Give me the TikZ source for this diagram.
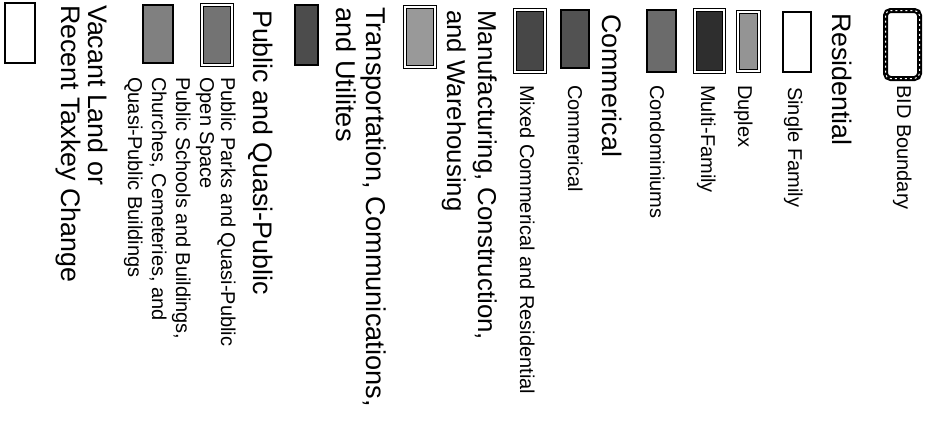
\documentclass[tikz,border=0pt]{standalone}
\usepackage{fontspec}
\setmainfont{Liberation Sans}
\begin{document}
\begin{tikzpicture}[x=1pt,y=-1pt,
  head/.style={rotate=-90,anchor=base west,inner sep=0pt,font=\fontsize{26.8}{30}\selectfont},
  item/.style={rotate=-90,anchor=base west,inner sep=0pt,font=\fontsize{20}{22}\selectfont},
  swatch/.style={draw=black,line width=1.8pt,anchor=north west,inner sep=0pt,outer sep=0pt},
  framed/.style={swatch,double=white,double distance=1.4pt,line width=1.3pt},
  bidbox/.style={swatch,line width=5pt,rounded corners=5pt,fill=white}
]
\useasboundingbox (0,0) rectangle (931,423);
\fill[white] (0,0) rectangle (931,423);

% BID boundary
\node[bidbox,minimum width=34pt,minimum height=68pt] (bidbox) at (885.5,10.5) {};
\draw[white,line width=1pt,dash pattern=on 2pt off 3pt,rounded corners=5pt] (bidbox.north west) rectangle (bidbox.south east);
\node[item] (bidtxt) at (897,85) {BID Boundary};

% Residential
\node[head] (reshead) at (832,13) {Residential};
\node[swatch,fill=white,minimum width=28pt,minimum height=60pt] (sfbox) at (783,12) {};
\node[item] (sftxt) at (788,87) {Single Family};
\node[framed,fill=black!42,minimum width=21pt,minimum height=59pt] (dupbox) at (738,12) {};
\node[item] (duptxt) at (738,85) {Duplex};
\node[framed,fill=black!82,minimum width=29pt,minimum height=62pt] (mfbox) at (695,10) {};
\node[item] (mftxt) at (701,85) {Multi-Family};
\node[swatch,fill=black!58,minimum width=29pt,minimum height=62pt] (condobox) at (647,10) {};
\node[item] (condotxt) at (650,85) {Condominiums};

% Commercial
\node[head] (comhead) at (602,14) {Commerical};
\node[swatch,fill=black!68,minimum width=28pt,minimum height=58pt] (combox) at (561,10) {};
\node[item] (comtxt) at (568,85) {Commerical};
\node[framed,fill=black!72,minimum width=30pt,minimum height=62pt] (mixbox) at (515,10) {};
\node[item] (mixtxt) at (520,85) {Mixed Commerical and Residential};

% Manufacturing
\node[head,font=\fontsize{25.8}{30}\selectfont] (manhead1) at (478,10) {Manufacturing, Construction,};
\node[head,font=\fontsize{25.8}{30}\selectfont] (manhead2) at (447,10) {and Warehousing};
\node[framed,fill=black!40,minimum width=30pt,minimum height=60pt] (manbox) at (405,7) {};

% Transportation
\node[head,font=\fontsize{27.2}{30}\selectfont] (trahead1) at (366,7) {Transportation, Communications,};
\node[head,font=\fontsize{27.2}{30}\selectfont] (trahead2) at (336,7) {and Utilites};
\node[swatch,fill=black!70,minimum width=23pt,minimum height=60pt] (trabox) at (295,5) {};

% Public
\node[head] (pubhead) at (253,10) {Public and Quasi-Public};
\node[framed,fill=black!55,minimum width=30pt,minimum height=60pt] (parkbox) at (202,5) {};
\node[item] (parktxt1) at (221,77) {Public Parks and Quasi-Public};
\node[item] (parktxt2) at (200,77) {Open Space};
\node[swatch,fill=black!50,minimum width=30pt,minimum height=58pt] (schbox) at (143,5) {};
\node[item] (schtxt1) at (176,77) {Public Schools and Buildings,};
\node[item] (schtxt2) at (152,77) {Churches, Cemeteries, and};
\node[item] (schtxt3) at (128,77) {Quasi-Public Buildings};

% Vacant
\node[head] (vachead1) at (88,5) {Vacant Land or};
\node[head] (vachead2) at (61,5) {Recent Taxkey Change};
\node[swatch,fill=white,minimum width=30pt,minimum height=60pt] (vacbox) at (5,3) {};
\end{tikzpicture}
\end{document}
